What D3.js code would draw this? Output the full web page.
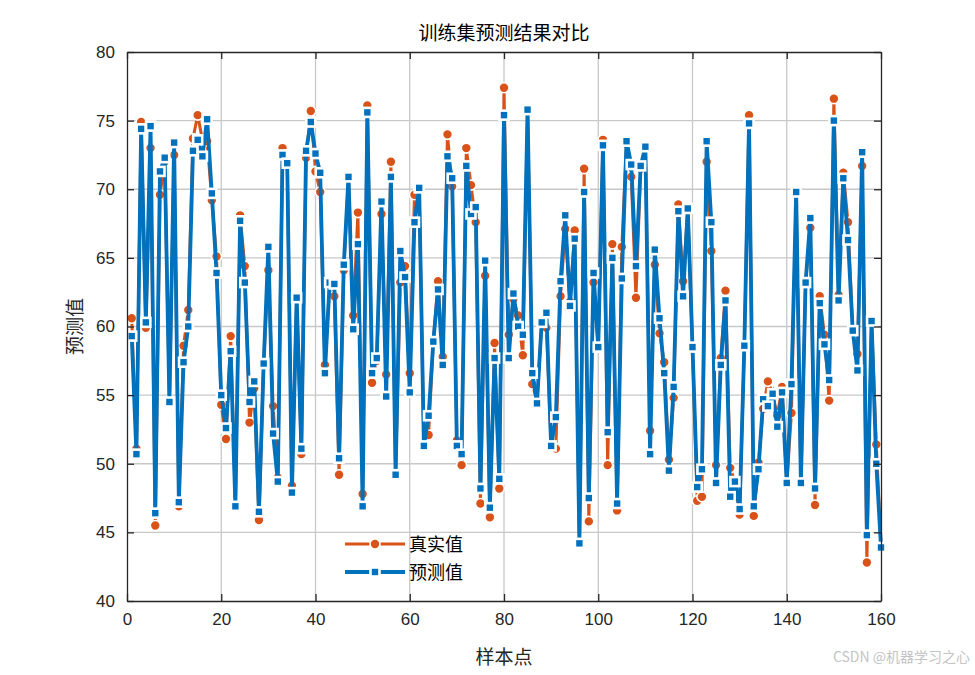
<!DOCTYPE html>
<html>
<head>
<meta charset="utf-8">
<script src="https://cdn.jsdelivr.net/npm/d3@7"></script>
<style>
  body { margin: 0; background: #fff; }
  svg { display: block; }
</style>
</head>
<body>
<div id="chart"></div>
<script>
const width = 975;
const height = 675;

const margin = { top: 52, left: 127, bottom: 74, right: 94 };

// data: sample index 1..160
const trueValues = [
  60.6, 51.1, 74.9, 59.9, 73.0, 45.5, 69.6, 72.0, 54.6, 72.5,
  46.9, 58.6, 61.2, 73.7, 75.4, 73.6, 73.5, 69.2, 65.1, 54.3,
  51.8, 59.3, 47.0, 68.1, 64.4, 53.0, 55.5, 45.9, 57.3, 64.1,
  54.2, 49.0, 73.0, 72.0, 48.4, 62.1, 50.7, 72.3, 75.7, 71.3,
  69.8, 57.2, 63.0, 62.2, 49.2, 64.1, 70.9, 60.8, 68.3, 47.8,
  76.1, 55.9, 57.5, 68.2, 56.5, 72.0, 49.3, 63.2, 64.4, 56.6,
  69.6, 70.0, 51.3, 52.1, 58.9, 63.3, 57.8, 74.0, 70.2, 51.7,
  49.9, 73.0, 70.3, 67.6, 47.1, 63.7, 46.1, 58.8, 48.2, 77.4,
  59.4, 62.0, 60.8, 57.9, 75.8, 55.8, 54.6, 60.2, 59.9, 51.3,
  51.1, 62.2, 67.1, 61.8, 67.0, 44.3, 71.5, 45.8, 63.2, 58.5,
  73.6, 49.9, 66.0, 46.6, 65.8, 73.3, 70.9, 62.1, 71.5, 73.1,
  52.4, 64.5, 59.5, 57.4, 50.3, 54.8, 68.9, 63.3, 68.6, 58.5,
  47.3, 47.6, 72.0, 65.5, 49.9, 57.7, 62.6, 49.7, 48.7, 46.3,
  58.6, 75.4, 46.2, 50.1, 54.0, 56.0, 55.1, 53.5, 55.6, 48.6,
  53.7, 69.8, 48.6, 63.2, 67.2, 47.0, 62.2, 59.4, 54.6, 76.6,
  62.3, 71.2, 67.6, 59.7, 58.0, 71.7, 42.8, 60.4, 51.4, 44.0
];

const predValues = [
  59.3, 50.7, 74.4, 60.3, 74.6, 46.4, 71.3, 72.3, 54.5, 73.4,
  47.2, 57.4, 60.0, 72.8, 73.6, 72.4, 75.1, 69.7, 63.9, 55.0,
  52.6, 58.2, 46.9, 67.7, 63.2, 54.5, 56.0, 46.5, 57.3, 65.8,
  52.2, 48.7, 72.5, 71.9, 47.9, 62.1, 51.1, 72.8, 74.9, 72.6,
  71.2, 56.6, 63.2, 63.1, 50.4, 64.5, 70.9, 59.8, 66.0, 46.9,
  75.6, 56.6, 57.7, 69.1, 54.9, 70.9, 49.2, 65.5, 63.6, 55.2,
  67.6, 70.1, 51.3, 53.5, 58.9, 62.7, 57.2, 72.4, 70.8, 51.3,
  50.7, 71.7, 68.2, 68.7, 48.2, 64.8, 46.8, 57.7, 48.9, 75.4,
  57.7, 62.4, 60.0, 59.4, 75.8, 56.6, 54.4, 60.3, 61.0, 51.3,
  53.4, 63.3, 68.1, 61.5, 66.4, 44.2, 69.8, 47.5, 63.9, 58.5,
  73.2, 52.3, 65.0, 47.1, 63.5, 73.5, 71.8, 64.4, 71.7, 73.1,
  50.7, 65.6, 60.6, 56.6, 49.5, 55.6, 68.4, 62.2, 68.6, 58.5,
  48.3, 49.6, 73.5, 67.6, 48.6, 57.2, 61.9, 47.6, 48.7, 46.7,
  58.6, 74.8, 46.9, 49.6, 54.7, 54.2, 55.1, 52.7, 55.2, 48.6,
  55.8, 69.8, 48.6, 63.2, 67.9, 48.2, 61.7, 58.7, 56.1, 75.0,
  61.9, 70.8, 66.3, 59.7, 56.8, 72.7, 44.8, 60.4, 50.0, 43.9
];

const xTicks = [0, 20, 40, 60, 80, 100, 120, 140, 160];
const yTicks = [40, 45, 50, 55, 60, 65, 70, 75, 80];

const seriesNames = ["真实值", "预测值"];
const orange = "#D95319";
const blue = "#0072BD";

const innerW = width - margin.left - margin.right;
const innerH = height - margin.top - margin.bottom;

const xScale = d3.scaleLinear().domain([0, 160]).range([0, innerW]);
const yScale = d3.scaleLinear().domain([40, 80]).range([innerH, 0]);

const svg = d3.select("#chart").append("svg").attr("width", width).attr("height", height);
const g = svg.append("g").attr("transform", `translate(${margin.left},${margin.top})`);

// grid
g.append("g").selectAll("line").data(xTicks.slice(1, -1)).join("line")
  .attr("x1", d => xScale(d)).attr("x2", d => xScale(d))
  .attr("y1", 0).attr("y2", innerH)
  .attr("stroke", "#c8c8c8").attr("stroke-width", 1.3);
g.append("g").selectAll("line").data(yTicks.slice(1, -1)).join("line")
  .attr("y1", d => yScale(d)).attr("y2", d => yScale(d))
  .attr("x1", 0).attr("x2", innerW)
  .attr("stroke", "#c8c8c8").attr("stroke-width", 1.3);

const lineGen = d3.line()
  .x((d, i) => xScale(i + 1))
  .y(d => yScale(d));

// true values: line then circles
g.append("path").datum(trueValues)
  .attr("fill", "none").attr("stroke", orange).attr("stroke-width", 3)
  .attr("d", lineGen);
g.append("g").selectAll("circle").data(trueValues).join("circle")
  .attr("cx", (d, i) => xScale(i + 1)).attr("cy", d => yScale(d))
  .attr("r", 5).attr("fill", orange).attr("stroke", "#fff").attr("stroke-width", 1.6);

// predicted values: line then squares
g.append("path").datum(predValues)
  .attr("fill", "none").attr("stroke", blue).attr("stroke-width", 3.8)
  .attr("stroke-linejoin", "miter")
  .attr("d", lineGen);
g.append("g").selectAll("rect").data(predValues).join("rect")
  .attr("x", (d, i) => xScale(i + 1) - 4.5).attr("y", d => yScale(d) - 4.5)
  .attr("width", 9).attr("height", 9)
  .attr("fill", blue).attr("stroke", "#fff").attr("stroke-width", 2.6);

// axes (box with inward ticks on all sides)
const tickLen = 7;
const xAxisB = d3.axisBottom(xScale).tickValues(xTicks).tickSizeInner(-tickLen).tickSizeOuter(0).tickPadding(12);
const xAxisT = d3.axisTop(xScale).tickValues(xTicks).tickSizeInner(-tickLen).tickSizeOuter(0).tickFormat("");
const yAxisL = d3.axisLeft(yScale).tickValues(yTicks).tickSizeInner(-tickLen).tickSizeOuter(0).tickPadding(12);
const yAxisR = d3.axisRight(yScale).tickValues(yTicks).tickSizeInner(-tickLen).tickSizeOuter(0).tickFormat("");

g.append("g").attr("transform", `translate(0,${innerH})`).call(xAxisB);
g.append("g").call(xAxisT);
g.append("g").call(yAxisL);
g.append("g").attr("transform", `translate(${innerW},0)`).call(yAxisR);

g.selectAll(".domain").attr("stroke", "#262626").attr("stroke-width", 1.3);
g.selectAll(".tick line").attr("stroke", "#262626").attr("stroke-width", 1.3);
g.selectAll(".tick text")
  .attr("fill", "#262626")
  .style("font-family", "Liberation Sans, Arial, sans-serif")
  .style("font-size", "17px");

// title and axis labels
svg.append("text")
  .attr("x", margin.left + innerW / 2).attr("y", 40)
  .attr("text-anchor", "middle")
  .style("font-family", "Noto Sans CJK SC")
  .style("font-size", "19px").attr("fill", "#000")
  .text("训练集预测结果对比");

svg.append("text")
  .attr("x", margin.left + innerW / 2).attr("y", 664)
  .attr("text-anchor", "middle")
  .style("font-family", "Noto Sans CJK SC")
  .style("font-size", "19px").attr("fill", "#262626")
  .text("样本点");

svg.append("text")
  .attr("transform", `translate(82,${margin.top + innerH / 2}) rotate(-90)`)
  .attr("text-anchor", "middle")
  .style("font-family", "Noto Sans CJK SC")
  .style("font-size", "19px").attr("fill", "#262626")
  .text("预测值");

// legend
const legendX = 345;
const legendY = [544, 572];
const legend = svg.append("g");
seriesNames.forEach((name, i) => {
  const col = i === 0 ? orange : blue;
  legend.append("line")
    .attr("x1", legendX).attr("x2", legendX + 60)
    .attr("y1", legendY[i]).attr("y2", legendY[i])
    .attr("stroke", col).attr("stroke-width", i === 0 ? 3 : 3.8);
  if (i === 0) {
    legend.append("circle").attr("cx", legendX + 30).attr("cy", legendY[i]).attr("r", 5)
      .attr("fill", col).attr("stroke", "#fff").attr("stroke-width", 1.6);
  } else {
    legend.append("rect").attr("x", legendX + 25.5).attr("y", legendY[i] - 4.5)
      .attr("width", 9).attr("height", 9)
      .attr("fill", col).attr("stroke", "#fff").attr("stroke-width", 2.6);
  }
  legend.append("text")
    .attr("x", legendX + 64).attr("y", legendY[i] + 7)
    .style("font-family", "Noto Sans CJK SC")
    .style("font-size", "18px").attr("fill", "#000")
    .text(name);
});

// watermark
svg.append("text")
  .attr("x", 970).attr("y", 662)
  .attr("text-anchor", "end")
  .style("font-family", "Noto Sans CJK SC")
  .style("font-size", "14px").attr("fill", "#c4c4c4")
  .text("CSDN @机器学习之心");
</script>
</body>
</html>
